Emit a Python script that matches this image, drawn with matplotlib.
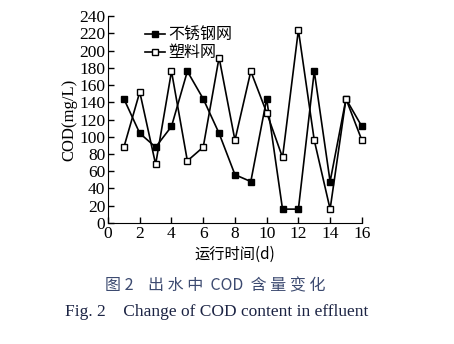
import matplotlib
matplotlib.use("Agg")
from matplotlib import pyplot

days = list(range(1, 17))
steel = [144, 104, 88, 112, 176, 144, 104, 56, 48, 144, 16, 16, 176, 48, 144, 112]
plastic = [88, 152, 68, 176, 72, 88, 192, 96, 176, 128, 76, 224, 96, 16, 144, 96]

serif = ["Liberation Serif", "Noto Sans CJK SC"]
cjk = ["Noto Sans CJK SC", "Liberation Serif"]

fig = pyplot.figure(figsize=(4.54, 3.44), dpi=100)
axes = fig.add_axes([0.238, 0.352, 0.559, 0.601])

axes.plot(days, steel, "-", color="black", lw=1.2, marker="s", ms=5,
          mfc="black", mec="black", label="不锈钢网", clip_on=False)
axes.plot(days, plastic, "-", color="black", lw=1.2, marker="s", ms=5,
          mfc="white", mec="black", mew=1.0, label="塑料网", clip_on=False)

axes.set_xlim(0, 16)
axes.set_ylim(0, 240)
axes.set_xticks(range(0, 17, 2))
axes.set_yticks(range(0, 241, 20))
axes.spines["top"].set_visible(False)
axes.spines["right"].set_visible(False)
axes.tick_params(direction="in", length=4, width=1, labelsize=12.5, pad=2)
for lab in axes.get_xticklabels() + axes.get_yticklabels():
    lab.set_family(serif)

axes.set_ylabel("COD(mg/L)", family=serif, fontsize=12, labelpad=1)
axes.set_xlabel("运行时间(d)", family=cjk, fontsize=11, labelpad=3)

leg = axes.legend(loc="upper left", bbox_to_anchor=(0.1, 1.005), frameon=False,
                  prop={"family": cjk, "size": 11.5}, handlelength=1.3,
                  handletextpad=0.2, labelspacing=0.05, borderpad=0.2)

fig.text(0.475, 0.168, "图 2    出 水 中  COD  含 量 变 化", ha="center", va="center",
         family=cjk, fontsize=11.5, color="#3c4a70")
fig.text(0.478, 0.093, "Fig. 2    Change of COD content in effluent", ha="center",
         va="center", family=serif, fontsize=12.5, color="#1c2444")

fig.savefig("out.png", dpi=100)
